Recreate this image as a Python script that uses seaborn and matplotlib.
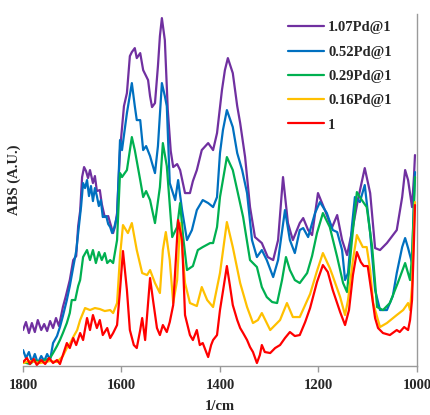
import numpy as np
import pandas as pd
import matplotlib
matplotlib.use('Agg')
import matplotlib.pyplot as plt
import seaborn as sns

# 数据: 波数 (1/cm) 和 吸光度 (A.U.)
wn_107 = [1800, 1794, 1788, 1782, 1776, 1770, 1763, 1757, 1751, 1745,
          1739, 1733, 1727, 1719, 1713, 1705, 1698, 1692, 1688, 1684,
          1680, 1676, 1672, 1668, 1664, 1658, 1654, 1650, 1644, 1640,
          1634, 1627, 1623, 1617, 1613, 1609, 1603, 1595, 1589, 1583,
          1579, 1573, 1569, 1562, 1556, 1550, 1546, 1542, 1538, 1532,
          1526, 1522, 1518, 1512, 1506, 1500, 1495, 1487, 1481, 1471,
          1461, 1455, 1447, 1437, 1424, 1414, 1406, 1396, 1390, 1384,
          1374, 1365, 1359, 1349, 1339, 1329, 1315, 1303, 1292, 1282,
          1272, 1262, 1252, 1238, 1231, 1221, 1213, 1201, 1187, 1173,
          1162, 1152, 1142, 1130, 1120, 1106, 1095, 1085, 1075, 1061,
          1041, 1030, 1024, 1018, 1010, 1006, 1004]
abs_107 = [0.36, 0.44, 0.33, 0.43, 0.34, 0.46, 0.36, 0.42, 0.35, 0.45,
           0.38, 0.48, 0.40, 0.59, 0.70, 0.86, 1.06, 1.10, 1.40, 1.55,
           1.89, 1.99, 1.95, 1.88, 1.96, 1.83, 1.90, 1.75, 1.76, 1.62,
           1.49, 1.50, 1.43, 1.33, 1.40, 1.53, 2.16, 2.60, 2.73, 3.10,
           3.14, 3.18, 3.08, 3.13, 2.96, 2.90, 2.86, 2.70, 2.59, 2.63,
           3.00, 3.30, 3.48, 3.26, 2.56, 2.15, 1.99, 2.02, 1.96, 1.73,
           1.73, 1.85, 1.96, 2.16, 2.23, 2.16, 2.33, 2.76, 2.96, 3.08,
           2.93, 2.60, 2.43, 2.09, 1.59, 1.29, 1.23, 1.09, 1.06, 1.26,
           1.89, 1.43, 1.26, 1.43, 1.48, 1.36, 1.31, 1.73, 1.56, 1.38,
           1.51, 1.26, 1.11, 1.39, 1.66, 1.98, 1.73, 1.18, 1.16, 1.23,
           1.36, 1.69, 1.96, 1.86, 1.59, 1.90, 2.11]

wn_052 = [1800, 1794, 1788, 1782, 1776, 1770, 1763, 1757, 1751, 1745,
          1739, 1731, 1725, 1719, 1711, 1705, 1698, 1692, 1688, 1682,
          1678, 1674, 1670, 1666, 1662, 1658, 1654, 1650, 1646, 1642,
          1638, 1631, 1627, 1623, 1619, 1615, 1609, 1603, 1599, 1589,
          1579, 1573, 1569, 1562, 1556, 1550, 1542, 1538, 1532, 1526,
          1518, 1512, 1508, 1502, 1491, 1485, 1477, 1467, 1457, 1447,
          1435, 1424, 1414, 1406, 1400, 1394, 1386, 1374, 1365, 1355,
          1345, 1335, 1325, 1315, 1305, 1292, 1282, 1268, 1258, 1248,
          1238, 1231, 1221, 1207, 1197, 1183, 1171, 1162, 1152, 1146,
          1140, 1132, 1126, 1116, 1106, 1095, 1085, 1075, 1061, 1049,
          1041, 1030, 1024, 1018, 1010, 1006, 1004]
abs_052 = [0.16, 0.08, 0.14, 0.04, 0.12, 0.03, 0.10, 0.05, 0.12, 0.06,
           0.23, 0.30, 0.39, 0.50, 0.66, 0.80, 0.99, 1.15, 1.33, 1.60,
           1.83, 1.78, 1.86, 1.70, 1.80, 1.65, 1.78, 1.70, 1.60, 1.66,
           1.49, 1.50, 1.42, 1.39, 1.33, 1.38, 1.50, 2.26, 2.16, 2.53,
           2.83, 2.60, 2.46, 2.46, 2.16, 2.20, 2.10, 2.03, 1.93, 2.20,
           2.83, 2.70, 2.60, 1.83, 1.66, 1.86, 1.56, 1.26, 1.36, 1.56,
           1.66, 1.63, 1.59, 1.69, 2.13, 2.36, 2.56, 2.39, 2.13, 1.96,
           1.73, 1.26, 1.09, 1.16, 1.06, 0.89, 1.06, 1.56, 1.26, 1.13,
           1.36, 1.38, 1.29, 1.53, 1.64, 1.53, 1.36, 1.34, 1.16, 0.86,
           0.93, 1.40, 1.69, 1.64, 1.81, 1.33, 0.76, 0.56, 0.56, 0.70,
           0.93, 1.19, 1.28, 1.18, 1.03, 1.70, 1.94]

wn_029 = [1800, 1786, 1776, 1765, 1755, 1745, 1739, 1731, 1725, 1719,
          1711, 1705, 1701, 1694, 1688, 1684, 1678, 1670, 1664, 1658,
          1652, 1646, 1640, 1634, 1629, 1623, 1617, 1609, 1603, 1599,
          1589, 1579, 1573, 1562, 1556, 1550, 1542, 1532, 1522, 1516,
          1508, 1497, 1487, 1481, 1475, 1467, 1455, 1445, 1435, 1420,
          1414, 1406, 1400, 1386, 1374, 1365, 1353, 1339, 1325, 1315,
          1305, 1294, 1284, 1274, 1266, 1258, 1248, 1238, 1223, 1213,
          1203, 1191, 1177, 1162, 1150, 1142, 1132, 1122, 1112, 1102,
          1091, 1081, 1069, 1055, 1039, 1024, 1014, 1010, 1006, 1004]
abs_029 = [0.04, 0.02, 0.06, 0.04, 0.06, 0.08, 0.13, 0.20, 0.26, 0.33,
           0.43, 0.53, 0.66, 0.66, 0.80, 0.86, 1.09, 1.16, 1.06, 1.16,
           1.03, 1.14, 1.06, 1.13, 1.03, 1.06, 1.03, 1.26, 1.93, 1.89,
           1.96, 2.29, 2.16, 1.86, 1.69, 1.75, 1.66, 1.43, 1.79, 2.23,
           2.00, 1.29, 1.39, 1.63, 1.30, 0.96, 1.00, 1.16, 1.19, 1.23,
           1.23, 1.39, 1.69, 2.09, 1.96, 1.76, 1.49, 1.06, 0.99, 0.79,
           0.69, 0.64, 0.63, 0.86, 1.09, 0.96, 0.86, 0.83, 0.93, 1.10,
           1.33, 1.53, 1.39, 1.09, 0.83, 0.74, 1.26, 1.74, 1.66, 1.59,
           1.19, 0.59, 0.56, 0.63, 0.83, 1.03, 0.86, 1.10, 1.60, 1.89]

wn_016 = [1800, 1786, 1765, 1745, 1731, 1719, 1711, 1705, 1698, 1690,
          1684, 1674, 1664, 1654, 1644, 1634, 1623, 1617, 1609, 1603,
          1597, 1587, 1579, 1569, 1558, 1548, 1542, 1532, 1522, 1516,
          1510, 1502, 1495, 1487, 1481, 1471, 1461, 1447, 1437, 1426,
          1414, 1400, 1386, 1374, 1359, 1345, 1333, 1323, 1315, 1298,
          1278, 1264, 1252, 1238, 1217, 1203, 1191, 1177, 1171, 1156,
          1146, 1140, 1130, 1122, 1110, 1102, 1095, 1089, 1075, 1061,
          1041, 1028, 1018, 1014, 1010, 1006, 1004]
abs_016 = [0.03, 0.05, 0.03, 0.05, 0.04, 0.10, 0.18, 0.22, 0.29, 0.36,
           0.46, 0.58, 0.56, 0.58, 0.57, 0.55, 0.56, 0.53, 0.63, 1.10,
           1.41, 1.33, 1.43, 1.16, 0.93, 0.91, 0.96, 0.83, 0.73, 1.16,
           1.34, 1.06, 0.63, 0.86, 1.43, 0.83, 0.63, 0.60, 0.79, 0.66,
           0.59, 0.93, 1.44, 1.19, 0.83, 0.59, 0.43, 0.46, 0.53, 0.36,
           0.46, 0.63, 0.49, 0.49, 0.72, 0.95, 1.13, 0.98, 0.90, 0.69,
           0.51, 0.66, 1.06, 1.31, 1.19, 1.19, 0.96, 0.63, 0.39, 0.43,
           0.51, 0.56, 0.63, 0.56, 0.80, 1.40, 1.64]

wn_1 = [1800, 1792, 1786, 1778, 1772, 1763, 1755, 1747, 1739, 1731,
        1725, 1717, 1711, 1705, 1698, 1692, 1684, 1678, 1670, 1664,
        1658, 1650, 1644, 1638, 1629, 1623, 1617, 1609, 1603, 1597,
        1589, 1583, 1575, 1569, 1562, 1558, 1552, 1542, 1536, 1528,
        1522, 1516, 1508, 1502, 1495, 1485, 1477, 1471, 1461, 1455,
        1447, 1441, 1435, 1428, 1424, 1418, 1414, 1406, 1400, 1392,
        1386, 1380, 1374, 1365, 1359, 1353, 1345, 1339, 1333, 1325,
        1319, 1315, 1309, 1298, 1288, 1278, 1268, 1258, 1248, 1238,
        1227, 1217, 1203, 1191, 1181, 1171, 1156, 1146, 1138, 1130,
        1122, 1114, 1108, 1100, 1093, 1085, 1079, 1069, 1055, 1041,
        1035, 1026, 1018, 1014, 1010, 1006, 1004]
abs_1 = [0.04, 0.08, 0.02, 0.07, 0.01, 0.06, 0.02, 0.08, 0.03, 0.06,
         0.02, 0.14, 0.23, 0.18, 0.28, 0.21, 0.33, 0.26, 0.48, 0.36,
         0.51, 0.38, 0.46, 0.31, 0.38, 0.28, 0.33, 0.41, 0.76, 1.15,
         0.76, 0.36, 0.21, 0.18, 0.36, 0.48, 0.26, 0.88, 0.66, 0.38,
         0.31, 0.41, 0.34, 0.44, 0.61, 1.46, 1.26, 0.51, 0.31, 0.26,
         0.36, 0.21, 0.23, 0.14, 0.09, 0.21, 0.26, 0.31, 0.56, 0.81,
         1.00, 0.81, 0.61, 0.46, 0.38, 0.33, 0.26, 0.19, 0.14, 0.03,
         0.11, 0.21, 0.14, 0.13, 0.18, 0.21, 0.28, 0.34, 0.30, 0.31,
         0.44, 0.58, 0.84, 1.01, 0.94, 0.76, 0.54, 0.41, 0.56, 0.91,
         1.14, 1.04, 1.00, 1.00, 0.76, 0.48, 0.38, 0.33, 0.31, 0.36,
         0.34, 0.39, 0.36, 0.46, 0.66, 1.26, 1.61]

labels = ['1.07Pd@1', '0.52Pd@1', '0.29Pd@1', '0.16Pd@1', '1']
colors = ['#7030A0', '#0070C0', '#00B050', '#FFC000', '#FF0000']
xticks = [1800, 1600, 1400, 1200, 1000]

series = [(wn_107, abs_107), (wn_052, abs_052), (wn_029, abs_029),
          (wn_016, abs_016), (wn_1, abs_1)]
frames = []
for lab, (w, a) in zip(labels, series):
    frames.append(pd.DataFrame({'wn': w, 'abs': a, 'sample': lab}))
df = pd.concat(frames, ignore_index=True)

sns.set_style('white')
plt.rcParams['font.family'] = ['Liberation Serif', 'DejaVu Serif']
plt.rcParams['font.weight'] = 'bold'

fig = plt.figure(figsize=(4.31, 4.15), dpi=100)
ax = fig.add_axes([0.0534, 0.118, 0.914, 0.848])

sns.lineplot(data=df, x='wn', y='abs', hue='sample', hue_order=labels,
             palette=colors, estimator=None, sort=False, linewidth=1.6, ax=ax)
for line in ax.get_lines():
    line.set_solid_joinstyle('round')

ax.set_xlim(1800, 1000)
ax.set_ylim(0, 3.52)
ax.set_xticks(xticks)
ax.set_xticklabels([str(t) for t in xticks], fontsize=10.5, fontweight='bold')
ax.set_yticks([])

grey = '#9a9a9a'
for s in ['left', 'top']:
    ax.spines[s].set_visible(False)
for s in ['bottom', 'right']:
    ax.spines[s].set_color(grey)
    ax.spines[s].set_linewidth(1.0)
ax.tick_params(axis='x', direction='out', length=4, width=1.0, color=grey, pad=5,
               bottom=True)

ax.set_xlabel('1/cm', fontsize=10.5, fontweight='bold', labelpad=6)
ax.set_ylabel('ABS (A.U.)', fontsize=10.5, fontweight='bold')
ax.yaxis.set_label_coords(-0.004, 0.53)

leg = ax.legend(loc='upper left', bbox_to_anchor=(0.6726, 0.98), frameon=False,
                handlelength=2.5, handletextpad=0.25, labelspacing=0.76,
                borderpad=0, borderaxespad=0, prop={'size': 10.5, 'weight': 'bold'})
for line in leg.get_lines():
    line.set_linewidth(1.6)

fig.savefig('out.png', dpi=100)
